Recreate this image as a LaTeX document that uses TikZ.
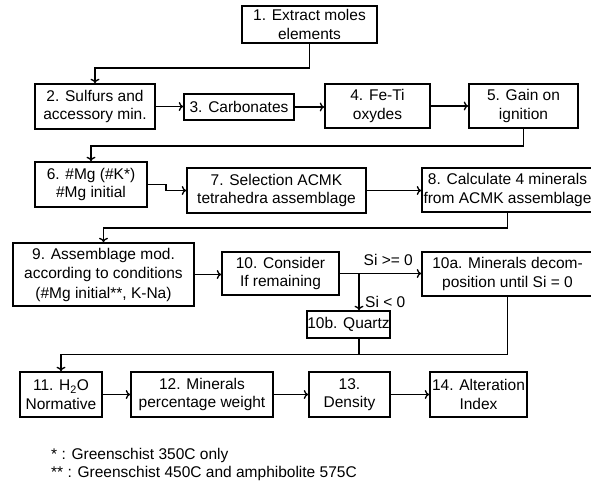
\documentclass[tikz,border=0pt]{standalone}
\usepackage{fontspec}
\setmainfont{Liberation Sans}
\usetikzlibrary{arrows.meta,calc}
\begin{document}
\begin{tikzpicture}[x=1pt,y=-1pt,
  box/.style={draw, line width=1.6pt, align=center, inner sep=0pt,
    font=\fontsize{15.5}{18.5}\selectfont},
  arr/.style={line width=1.4pt, -{To[length=4.5pt,width=9pt,line width=1.3pt]}},
  ln/.style={line width=1.4pt},
  lbl/.style={font=\fontsize{15.5}{18.5}\selectfont, inner sep=0pt}]
\useasboundingbox (0,0) rectangle (591,483);
\clip (0,0) rectangle (591,483);
% row 1
\node[box, minimum width=135pt, minimum height=37pt] (b1) at (309.5,24.5) {1. Extract moles\\elements};
% row 2
\node[box, minimum width=120pt, minimum height=45pt] (b2) at (95,106.5) {2. Sulfurs and\\accessory min.};
\node[box, minimum width=110pt, minimum height=26pt] (b3) at (239,107) {3. Carbonates};
\node[box, minimum width=105pt, minimum height=44pt] (b4) at (377.5,106) {4. Fe-Ti\\oxydes};
\node[box, minimum width=109pt, minimum height=44pt] (b5) at (523.5,106) {5. Gain on\\ignition};
% row 3
\node[box, minimum width=112pt, minimum height=45pt] (b6) at (91,184.5) {6. \#Mg (\#K*)\\\#Mg initial};
\node[box, minimum width=179pt, minimum height=45pt] (b7) at (276.5,190.5) {7. Selection ACMK\\tetrahedra assemblage};
\node[box, minimum width=171pt, minimum height=44pt] (b8) at (507.5,190) {8. Calculate 4 minerals\\from ACMK assemblage};
% row 4
\node[box, minimum width=181pt, minimum height=63pt, font=\fontsize{15.5}{19.5}\selectfont] (b9) at (103.5,274.5) {9. Assemblage mod.\\according to conditions\\(\#Mg initial**, K-Na)};
\node[box, minimum width=117pt, minimum height=43pt] (b10) at (280.5,273.5) {10. Consider\\If remaining};
\node[box, minimum width=171pt, minimum height=44pt] (b10a) at (507.5,274) {10a. Minerals decom-\\position until Si = 0};
\node[box, minimum width=79pt, minimum height=27pt] (b10b) at (348.5,324.5) {10b. Quartz};
% row 5
\node[box, minimum width=82pt, minimum height=45pt] (b11) at (61,394.5) {11. H\textsubscript{2}O\\Normative};
\node[box, minimum width=142pt, minimum height=45pt] (b12) at (202,394.5) {12. Minerals\\percentage weight};
\node[box, minimum width=81pt, minimum height=45pt] (b13) at (349.5,394.5) {13.\\Density};
\node[box, minimum width=97pt, minimum height=45pt] (b14) at (478.5,394.5) {14. Alteration\\Index};
% junction coordinates
\coordinate (j1) at (0,68);
\coordinate (j2) at (0,146);
\coordinate (j3) at (0,228);
\coordinate (j4) at (0,354.5);
\coordinate (br) at (359,0);
% connectors
\draw[arr] (b1.south) -- (b1.south |- j1) -| (b2.north);
\draw[arr] (b2.east) -- (b2.east -| b3.west);
\draw[arr] (b3.east) -- (b3.east -| b4.west);
\draw[arr] (b4.east) -- (b4.east -| b5.west);
\draw[arr] (b5.south) -- (b5.south |- j2) -| (b6.north);
\draw[arr] (b6.east) -- ++(18,0) |- (b7.west);
\draw[arr] (b7.east) -- (b7.east -| b8.west);
\draw[arr] (b8.south) -- (b8.south |- j3) -| (b9.north);
\draw[arr] (b9.east) -- (b9.east -| b10.west);
\draw[arr] (b10.east) -- (b10.east -| b10a.west);
\draw[arr] (b10.east -| br) -- (br |- b10b.north);
\draw[ln] (b10b.south -| br) -- (br |- j4);
\draw[arr] (b10a.south) -- (b10a.south |- j4) -| (b11.north);
\draw[arr] (b11.east) -- (b12.west);
\draw[arr] (b12.east) -- (b13.west);
\draw[arr] (b13.east) -- (b14.west);
% labels
\node[lbl, anchor=east] (l1) at (413,260) {Si >= 0};
\node[lbl, anchor=west] (l2) at (365,302) {Si < 0};
% footnotes
\node[lbl, anchor=west] (f1) at (51,455) {* : Greenschist 350C only};
\node[lbl, anchor=west] (f2) at (51,473) {** : Greenschist 450C and amphibolite 575C};
\end{tikzpicture}
\end{document}
